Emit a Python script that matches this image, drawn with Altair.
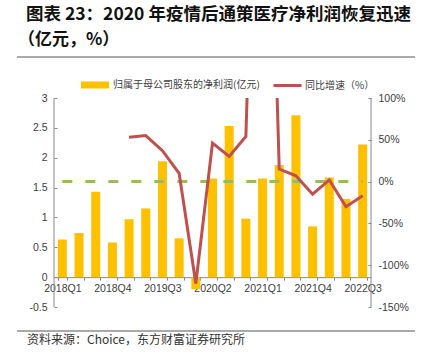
import altair as alt
import pandas as pd

quarters = ['2018Q1', '2018Q2', '2018Q3', '2018Q4', '2019Q1', '2019Q2', '2019Q3', '2019Q4',
            '2020Q1', '2020Q2', '2020Q3', '2020Q4', '2021Q1', '2021Q2', '2021Q3', '2021Q4',
            '2022Q1', '2022Q2', '2022Q3']
profit = [0.63, 0.74, 1.43, 0.58, 0.97, 1.15, 1.94, 0.65, -0.20, 1.65, 2.53, 0.98,
          1.65, 1.88, 2.71, 0.85, 1.67, 1.31, 2.22]
growth_quarters = ['2019Q1', '2019Q2', '2019Q3', '2019Q4', '2020Q1', '2020Q2', '2020Q3',
                   '2020Q4', '2021Q1', '2021Q2', '2021Q3', '2021Q4', '2022Q1', '2022Q2', '2022Q3']
growth = [53, 55, 37, 10, -122, 46, 30, 54, 700, 15, 7, -15, 2, -30, -17]
label_quarters = ['2018Q1', '2018Q4', '2019Q3', '2020Q2', '2021Q1', '2021Q4', '2022Q3']
left_ticks = [-0.5, 0, 0.5, 1, 1.5, 2, 2.5, 3]
right_ticks = [-150, -100, -50, 0, 50, 100]

bar_name = '归属于母公司股东的净利润(亿元)'
line_name = '同比增速（%）'
title1 = '图表 23：2020 年疫情后通策医疗净利润恢复迅速'
title2 = '（亿元，%）'
source = '资料来源：Choice，东方财富证券研究所'

W, H = 317, 209
LMIN, LMAX = -0.5, 3
zero_off = -H * (0 - LMIN) / (LMAX - LMIN)

bar_df = pd.DataFrame({'q': quarters, 'v': profit, 's': bar_name})
line_df = pd.DataFrame({'q': growth_quarters, 'g': growth, 's': line_name})
ref_df = pd.DataFrame({'q': [quarters[0]], 'q2': [quarters[-1]], 'g': [0]})

axis_font = 'Liberation Sans'
lab_col = '#404040'
ax_col = '#888888'

label_list = "[" + ",".join("'%s'" % q for q in label_quarters) + "]"
xscale = alt.Scale(domain=quarters, paddingInner=0.46, paddingOuter=0.23)

x_enc = alt.X('q:N', sort=quarters, scale=xscale,
              axis=alt.Axis(title=None, orient='bottom', offset=zero_off,
                            labelExpr="indexof(%s, datum.value) >= 0 ? datum.value : ''" % label_list,
                            labelAngle=0, labelOverlap=False, tickBand='extent',
                            tickSize=3, tickColor=ax_col, domainColor=ax_col,
                            labelFont=axis_font, labelFontSize=10.5, labelColor=lab_col,
                            labelPadding=3))

bars = alt.Chart(bar_df).mark_bar().encode(
    x=x_enc,
    y=alt.Y('v:Q', scale=alt.Scale(domain=[LMIN, LMAX], nice=False, zero=False),
            axis=alt.Axis(title=None, orient='left', values=left_ticks, labelExpr="'' + datum.value",
                          domain=False, offset=-3, tickSize=3, tickColor=ax_col, grid=False,
                          labelFont=axis_font, labelFontSize=10.5, labelColor=lab_col,
                          labelPadding=7)),
    fill=alt.Fill('s:N', scale=alt.Scale(domain=[bar_name], range=['#FFC000']),
                  legend=alt.Legend(title=None, orient='none', legendX=26, legendY=-28,
                                    symbolType='M-1,-0.25H1V0.25H-1Z', symbolSize=784,
                                    labelFont='Noto Sans CJK SC', labelFontSize=10,
                                    labelColor=lab_col, labelOffset=3, padding=0)),
)

ref = alt.Chart(ref_df).mark_rule(color='#9BBB59', strokeWidth=3, strokeDash=[10, 13]).encode(
    x=alt.X('q:N', sort=quarters, scale=xscale),
    x2='q2:N',
    y=alt.Y('g:Q', scale=alt.Scale(domain=[-150, 100], nice=False, zero=False), axis=None),
)

line = alt.Chart(line_df).mark_line(strokeWidth=3, clip=True).encode(
    x=alt.X('q:N', sort=quarters, scale=xscale),
    y=alt.Y('g:Q', scale=alt.Scale(domain=[-150, 100], nice=False, zero=False),
            axis=alt.Axis(title=None, orient='right', values=right_ticks, labelExpr="datum.value + '%'",
                          domain=False, offset=-3, tickSize=3, tickColor=ax_col, grid=False,
                          labelFont=axis_font, labelFontSize=10.5, labelColor=lab_col,
                          labelPadding=7)),
    stroke=alt.Stroke('s:N', scale=alt.Scale(domain=[line_name], range=['#C0504D']),
                      legend=alt.Legend(title=None, orient='none', legendX=218, legendY=-28,
                                        symbolType='stroke', symbolSize=784, symbolStrokeWidth=3,
                                        labelFont='Noto Sans CJK SC', labelFontSize=10,
                                        labelColor=lab_col, labelOffset=2, padding=0)),
)

one = pd.DataFrame({'a': [0]})
left_dom = alt.Chart(one).mark_rule(color=ax_col, strokeWidth=1).encode(
    x=alt.value(0), y=alt.value(0), y2=alt.value(H))
right_dom = alt.Chart(one).mark_rule(color=ax_col, strokeWidth=1).encode(
    x=alt.value(W), y=alt.value(0), y2=alt.value(H))

sep_top = alt.Chart(one).mark_rule(color='#555555', strokeWidth=1).encode(
    x=alt.value(-37), x2=alt.value(361), y=alt.value(-41))
sep_bot = alt.Chart(one).mark_rule(color='#555555', strokeWidth=1.2).encode(
    x=alt.value(-37), x2=alt.value(361), y=alt.value(233))

t1 = alt.Chart(pd.DataFrame({'t': [title1]})).mark_text(
    align='left', baseline='middle', font='Noto Sans CJK SC', fontSize=17.5, fontWeight='bold',
    color='#111111').encode(x=alt.value(-28), y=alt.value(-83), text='t:N')
t2 = alt.Chart(pd.DataFrame({'t': [title2]})).mark_text(
    align='left', baseline='middle', font='Noto Sans CJK SC', fontSize=17, fontWeight='bold',
    color='#111111').encode(x=alt.value(-36), y=alt.value(-58), text='t:N')
src = alt.Chart(pd.DataFrame({'t': [source]})).mark_text(
    align='left', baseline='middle', font='Noto Sans CJK SC', fontSize=12,
    color='#333333').encode(x=alt.value(-27), y=alt.value(242), text='t:N')

chart = alt.layer(bars, ref, line, left_dom, right_dom, sep_top, sep_bot, t1, t2, src).resolve_scale(
    y='independent', fill='independent', stroke='independent'
).properties(
    width=W, height=H,
    autosize=alt.AutoSizeParams(type='none'),
    padding={'left': 54, 'top': 98, 'right': 428 - 54 - W, 'bottom': 352 - 98 - H},
).configure_view(stroke=None).configure_legend(padding=0)

chart.save('out.html', embed_options={'renderer': 'svg', 'actions': False})
